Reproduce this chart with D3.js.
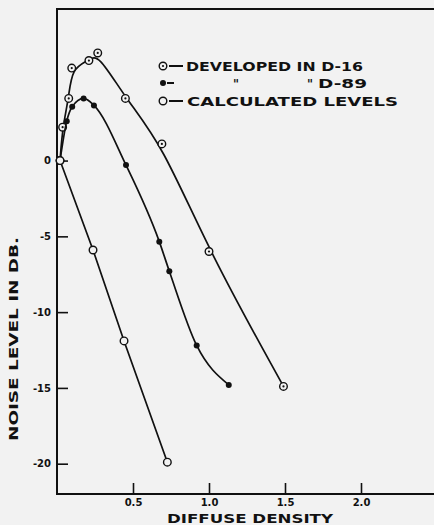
<!DOCTYPE html>
<html>
<head>
<meta charset="utf-8">
<script src="https://cdn.jsdelivr.net/npm/d3@7"></script>
<style>
  body { margin: 0; background: #f2f2f2; }
  svg { display: block; }
  .tick text { font-family: "DejaVu Sans", sans-serif; font-weight: bold; font-size: 10px; fill: #111; }
  .tick line { stroke: #111; stroke-width: 1.6; }
  .lbl { font-family: "DejaVu Sans", sans-serif; font-weight: bold; fill: #111; }
</style>
</head>
<body>
<div id="chart"></div>
<script>
// diffuse density vs noise level (dB)
const d16Density = [0.02, 0.037, 0.077, 0.097, 0.21, 0.268, 0.45, 0.69, 1.0, 1.49];
const d16Level   = [0,    2.2,   4.1,   6.1,   6.6,  7.1,   4.1,  1.1, -6.0, -14.9];

const d89Density = [0.02, 0.064, 0.10, 0.175, 0.243, 0.454, 0.673, 0.739, 0.919, 1.13];
const d89Level   = [0,    2.6,   3.55, 4.1,   3.64,  -0.3,  -5.35, -7.3,  -12.2, -14.8];

const calcDensity = [0.02, 0.237, 0.441, 0.726];
const calcLevel   = [0,    -5.9,  -11.9, -19.9];

const xTicks = [0.5, 1.0, 1.5, 2.0];
const xTickLabels = ['0.5', '1.0', '1.5', '2.0'];
const yTicks = [0, -5, -10, -15, -20];
const yTickLabels = ['0', '-5', '-10', '-15', '-20'];

class NoiseChart {
  constructor(_config) {
    this.config = {
      parentElement: _config.parentElement,
      containerWidth: 434,
      containerHeight: 525,
      margin: { top: 9, left: 57, bottom: 31 }
    };
    this.initVis();
  }

  initVis() {
    let vis = this;
    const c = vis.config;
    vis.svg = d3.select(c.parentElement).append('svg')
      .attr('width', c.containerWidth)
      .attr('height', c.containerHeight);

    vis.plotBottom = c.containerHeight - c.margin.bottom;

    vis.xScale = d3.scaleLinear().domain([0, 2.5]).range([c.margin.left, c.margin.left + 380]);
    vis.yScale = d3.scaleLinear().domain([-22, 10]).range([vis.plotBottom, c.margin.top]);

    vis.renderVis();
  }

  renderVis() {
    let vis = this;
    const c = vis.config;
    const ink = '#111';

    // frame
    vis.svg.append('path')
      .attr('d', `M${c.containerWidth},${c.margin.top}H${c.margin.left}V${vis.plotBottom}H${c.containerWidth}`)
      .attr('fill', 'none')
      .attr('stroke', ink)
      .attr('stroke-width', 2);

    const xAxis = d3.axisBottom(vis.xScale)
      .tickValues(xTicks)
      .tickFormat((d, i) => xTickLabels[i])
      .tickSizeInner(-11)
      .tickSizeOuter(0)
      .tickPadding(5);
    vis.svg.append('g')
      .attr('transform', `translate(0,${vis.plotBottom})`)
      .call(xAxis)
      .call(g => g.select('.domain').remove());

    const yAxis = d3.axisLeft(vis.yScale)
      .tickValues(yTicks)
      .tickFormat((d, i) => yTickLabels[i])
      .tickSizeInner(-11)
      .tickSizeOuter(0)
      .tickPadding(6);
    vis.svg.append('g')
      .attr('transform', `translate(${c.margin.left},0)`)
      .call(yAxis)
      .call(g => g.select('.domain').remove());

    // axis titles
    vis.svg.append('text')
      .attr('class', 'lbl')
      .attr('x', 250)
      .attr('y', 523)
      .attr('text-anchor', 'middle')
      .attr('font-size', 12)
      .attr('textLength', 166)
      .attr('lengthAdjust', 'spacingAndGlyphs')
      .text('DIFFUSE DENSITY');

    vis.svg.append('text')
      .attr('class', 'lbl')
      .attr('transform', 'translate(18,339) rotate(-90)')
      .attr('text-anchor', 'middle')
      .attr('font-size', 13)
      .attr('textLength', 204)
      .attr('lengthAdjust', 'spacingAndGlyphs')
      .text('NOISE LEVEL IN DB.');

    // curves: D-16 is a freehand fit, D-89 goes through its points, calculated is straight
    const lineWith = curve => d3.line()
      .x(d => vis.xScale(d[0]))
      .y(d => vis.yScale(d[1]))
      .curve(curve);

    const series = [
      { x: d16Density, y: d16Level, mark: 'dotted', gen: lineWith(d3.curveBasis) },
      { x: d89Density, y: d89Level, mark: 'filled', gen: lineWith(d3.curveMonotoneX) },
      { x: calcDensity, y: calcLevel, mark: 'open', gen: lineWith(d3.curveLinear) }
    ];

    series.forEach(s => {
      const pts = s.x.map((v, i) => [v, s.y[i]]);
      vis.svg.append('path')
        .datum(pts)
        .attr('d', s.gen)
        .attr('fill', 'none')
        .attr('stroke', ink)
        .attr('stroke-width', 1.7);
      vis.drawMarks(vis.svg, pts.map(p => [vis.xScale(p[0]), vis.yScale(p[1])]), s.mark);
    });

    // legend
    const legend = [
      { mark: 'dotted', y: 66 },
      { mark: 'filled', y: 83 },
      { mark: 'open', y: 101 }
    ];
    legend.forEach(l => {
      vis.drawMarks(vis.svg, [[163, l.y]], l.mark);
      vis.svg.append('line')
        .attr('x1', l.mark === 'filled' ? 167 : 169).attr('x2', l.mark === 'filled' ? 174 : 183)
        .attr('y1', l.y).attr('y2', l.y)
        .attr('stroke', ink).attr('stroke-width', 2);
    });

    const legendText = (x, y, w, t) => vis.svg.append('text')
      .attr('class', 'lbl')
      .attr('x', x).attr('y', y + 4.5)
      .attr('font-size', 12)
      .attr('textLength', w)
      .attr('lengthAdjust', 'spacingAndGlyphs')
      .text(t);
    legendText(186, 66, 177, 'DEVELOPED IN D-16');
    legendText(233, 83, 6, '"');
    legendText(307, 83, 6, '"');
    legendText(318, 83, 49, 'D-89');
    legendText(187, 101, 211, 'CALCULATED LEVELS');
  }

  drawMarks(sel, pts, type) {
    const ink = '#111';
    pts.forEach(p => {
      if (type === 'filled') {
        sel.append('circle').attr('cx', p[0]).attr('cy', p[1]).attr('r', 3).attr('fill', ink);
      } else {
        sel.append('circle').attr('cx', p[0]).attr('cy', p[1]).attr('r', 3.8)
          .attr('fill', '#f2f2f2').attr('stroke', ink).attr('stroke-width', 1.4);
        if (type === 'dotted') {
          sel.append('circle').attr('cx', p[0]).attr('cy', p[1]).attr('r', 1.1).attr('fill', ink);
        }
      }
    });
  }
}

new NoiseChart({ parentElement: '#chart' });
</script>
</body>
</html>
